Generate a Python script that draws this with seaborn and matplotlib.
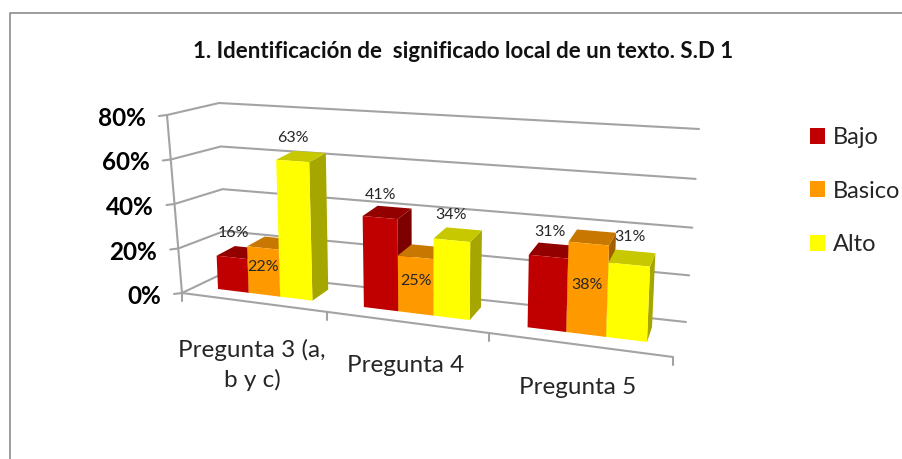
import numpy as np
import pandas as pd
import matplotlib
matplotlib.use('Agg')
import matplotlib.pyplot as plt
from matplotlib.patches import Polygon
from matplotlib.transforms import Transform
import seaborn as sns

categories = ['Pregunta 3 (a,\nb y c)', 'Pregunta 4', 'Pregunta 5']
levels = ['Bajo', 'Basico', 'Alto']
bajo = [16, 41, 31]
basico = [22, 25, 38]
alto = [63, 34, 31]
y_ticks = [0, 20, 40, 60, 80]

colors = ['#C00000', '#FF9900', '#FFFF00']
top_colors = ['#930000', '#C87800', '#C8C800']
side_colors = ['#7D0000', '#A06000', '#A6A600']
grid_color = '#A3A3A3'
text_color = '#262626'

BAR_GROUP = 0.66
# pixel corners of the perspective planes, (x, value) -> image position
SRC = [(-BAR_GROUP / 2, 0), (2 + BAR_GROUP / 2, 0), (2 + BAR_GROUP / 2, 80), (-BAR_GROUP / 2, 80)]
FRONT_DST = [(218, 289), (647, 342), (655, 143), (211, 118)]
BACK_DST = [(236, 279), (652, 327), (661, 132), (230, 110)]
WALL_SRC = [(-0.5, 0), (2.5, 0), (2.5, 80), (-0.5, 80)]
WALL_DST = [(226, 272), (686, 322), (699, 129), (219, 103)]
SIDE_FRONT = [(182, 293), (167, 115)]


def homography(src, dst):
    rows, rhs = [], []
    for (x, y), (u, v) in zip(src, dst):
        rows.append([x, y, 1, 0, 0, 0, -u * x, -u * y])
        rows.append([0, 0, 0, x, y, 1, -v * x, -v * y])
        rhs += [u, v]
    return np.append(np.linalg.solve(np.array(rows, float), np.array(rhs, float)), 1).reshape(3, 3)


class Plane(Transform):
    input_dims = 2
    output_dims = 2
    is_separable = False
    has_inverse = False

    def __init__(self, src, dst):
        super().__init__()
        self.h = homography(src, dst)

    def transform_non_affine(self, values):
        pts = np.column_stack([values, np.ones(len(values))]) @ self.h.T
        return pts[:, :2] / pts[:, 2:]


front = Plane(SRC, FRONT_DST)
back = Plane(SRC, BACK_DST)
wall = Plane(WALL_SRC, WALL_DST)

df = pd.DataFrame({'categoria': categories * 3,
                   'nivel': np.repeat(levels, 3),
                   'valor': bajo + basico + alto})

sns.set_theme(style='white')
plt.rcParams['font.family'] = ['Lato', 'DejaVu Sans']

fig = plt.figure(figsize=(9.03, 4.59), dpi=100)
ax = fig.add_axes([0, 0, 1, 1])
sns.barplot(data=df, x='categoria', y='valor', hue='nivel', hue_order=levels,
            palette=colors, saturation=1, width=BAR_GROUP, gap=0, ax=ax, legend=False)
ax.set_xlim(0, 903)
ax.set_ylim(459, 0)
ax.axis('off')

# chart frame
ax.plot([10, 10, 903], [459, 13, 13], color='#8C8C8C', lw=1.2, zorder=1)

# gridlines on the side and back walls
for v in y_ticks:
    f = np.interp(v, [0, 80], [SIDE_FRONT[0][0], SIDE_FRONT[1][0]]), np.interp(v, [0, 80], [SIDE_FRONT[0][1], SIDE_FRONT[1][1]])
    b0 = wall.transform_non_affine(np.array([[-0.5, v]]))[0]
    b1 = wall.transform_non_affine(np.array([[2.5, v]]))[0]
    ax.plot([f[0] - 8, f[0], b0[0], b1[0]], [f[1] + 1, f[1], b0[1], b1[1]],
            color=grid_color, lw=1.5, zorder=2, solid_joinstyle='miter')
    ax.text(f[0] - 21, f[1] + 3.5, f'{v}%', ha='right', va='center', fontsize=17.5,
            fontweight='bold', color='black')

# left edge and floor front edge
ax.plot([SIDE_FRONT[0][0], SIDE_FRONT[1][0]], [SIDE_FRONT[0][1], SIDE_FRONT[1][1]],
        color=grid_color, lw=1.5, zorder=2)
floor_x = [182, 673]
floor_y = [293, 357]
ax.plot(floor_x, floor_y, color=grid_color, lw=1.5, zorder=2)
for fx in [182, 327, 489, 673]:
    fy = np.interp(fx, floor_x, floor_y)
    ax.plot([fx, fx], [fy, fy + 8], color=grid_color, lw=1.5, zorder=2)

# bars: seaborn front faces bent into perspective, plus side and top faces
label_offsets = {'Bajo': [(1, -24), (1, -23), (2, -25)],
                 'Basico': [(0, 19), (0, 24), (-2, 41)],
                 'Alto': [(0, -23), (-1, -25), (1, -28)]}
order = 10
for container, level, c, ct, cs in zip(ax.containers, levels, colors, top_colors, side_colors):
    for i, bar in enumerate(container):
        x0, w, h = bar.get_x(), bar.get_width(), bar.get_height()
        bar.set_transform(front + ax.transData)
        bar.set_linewidth(0)
        bar.set_clip_on(False)
        corners = np.array([[x0, 0], [x0 + w, 0], [x0 + w, h], [x0, h]])
        fr = front.transform_non_affine(corners)
        bk = back.transform_non_affine(corners)
        side = Polygon([fr[1], bk[1], bk[2], fr[2]], fc=cs, lw=0, zorder=order + i * 10)
        top = Polygon([fr[3], fr[2], bk[2], bk[3]], fc=ct, lw=0, zorder=order + i * 10)
        ax.add_patch(side)
        ax.add_patch(top)
        bar.set_zorder(order + i * 10 + 1)
        cx, cy = front.transform_non_affine(np.array([[x0 + w / 2, h]]))[0]
        dx, dy = label_offsets[level][i]
        ax.text(cx + dx, cy + dy, f'{h:.0f}%', ha='center', va='center', fontsize=11.5,
                color=text_color, zorder=100)
    order += 1

# category labels
cat_pos = [(252, 365), (406, 365), (578, 388)]
for label, (px, py) in zip(categories, cat_pos):
    ax.text(px, py, label, ha='center', va='center', fontsize=17.5, color=text_color,
            linespacing=1.45)

# legend
handles = [container[0] for container in ax.containers]
leg = ax.legend(handles, levels, loc='upper left', bbox_to_anchor=(810 / 903, 1 - 127 / 459),
                frameon=False, fontsize=17, labelspacing=1.38, handlelength=0.64,
                handleheight=0.64, handletextpad=0.34, borderpad=0, borderaxespad=0,
                labelcolor=text_color)

ax.text(463, 52, '1. Identificación de  significado local de un texto. S.D 1', ha='center',
        va='center', fontsize=16, fontweight='bold', color='#111111')

fig.savefig('out.png', dpi=100)
